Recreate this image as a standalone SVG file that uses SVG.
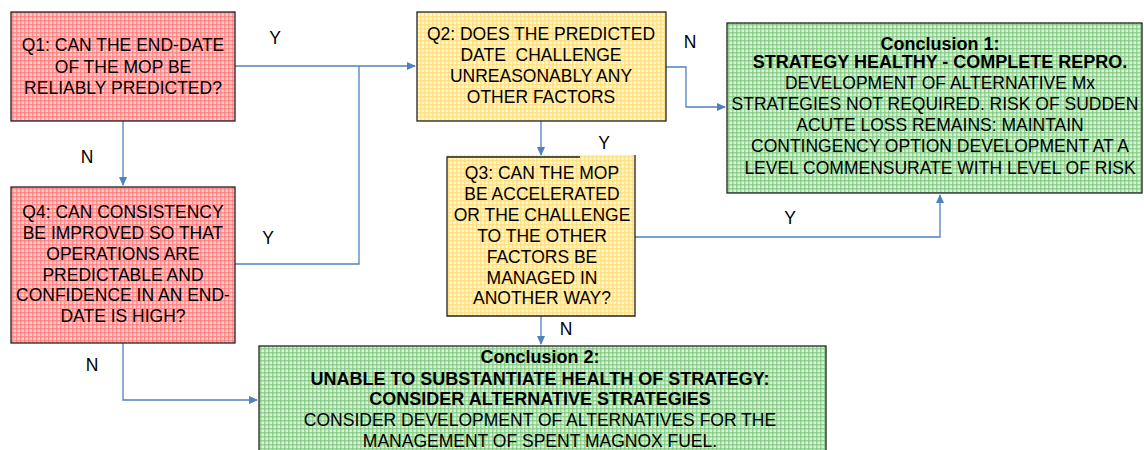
<svg xmlns="http://www.w3.org/2000/svg" width="1144" height="450" viewBox="0 0 1144 450">
<style>
  .t{font-family:"Liberation Sans",Arial,sans-serif;font-size:17.5px;fill:#000;text-anchor:middle}
  .b{font-weight:bold;font-size:18px}
  .lbl{font-family:"Liberation Sans",Arial,sans-serif;font-size:17.5px;fill:#000;text-anchor:middle}
  .box{stroke:#222;stroke-width:1.3}
  .c{fill:none;stroke:#4f81bd;stroke-width:1.3}
</style>
<defs>
  <pattern id="pr" width="4" height="4" patternUnits="userSpaceOnUse">
    <rect width="4" height="4" fill="#ffcccc"/>
    <rect width="1.5" height="4" fill="#ff7a7a" opacity="0.75"/>
    <rect width="4" height="1.5" fill="#ff7a7a" opacity="0.75"/>
  </pattern>
  <pattern id="py" width="4" height="4" patternUnits="userSpaceOnUse">
    <rect width="4" height="4" fill="#fff6d0"/>
    <rect width="1.5" height="4" fill="#ffdc73" opacity="0.7"/>
    <rect width="4" height="1.5" fill="#ffdc73" opacity="0.7"/>
  </pattern>
  <pattern id="pg" width="4" height="4" patternUnits="userSpaceOnUse">
    <rect width="4" height="4" fill="#daf1da"/>
    <rect width="1.5" height="4" fill="#7cc87c" opacity="0.7"/>
    <rect width="4" height="1.5" fill="#7cc87c" opacity="0.7"/>
  </pattern>
  <marker id="ah" markerWidth="10" markerHeight="10" refX="8" refY="5" orient="auto" markerUnits="userSpaceOnUse">
    <path d="M0,1 L9,5 L0,9 Z" fill="#4f81bd"/>
  </marker>
</defs>

<g id="connectors">
  <path class="c" d="M235,66 H415" marker-end="url(#ah)"/>
  <path class="c" d="M235,264 H359 V66"/>
  <path class="c" d="M123,121 V185" marker-end="url(#ah)"/>
  <path class="c" d="M123,343 V400 H257" marker-end="url(#ah)"/>
  <path class="c" d="M666,67 H686 V107 H725" marker-end="url(#ah)"/>
  <path class="c" d="M541,121 V155" marker-end="url(#ah)"/>
  <path class="c" d="M635,237 H940 V195" marker-end="url(#ah)"/>
  <path class="c" d="M541,316 V344" marker-end="url(#ah)"/>
</g>

<g id="labels">
  <text class="lbl" x="275" y="44">Y</text>
  <text class="lbl" x="268" y="244">Y</text>
  <text class="lbl" x="87" y="163">N</text>
  <text class="lbl" x="92" y="371">N</text>
  <text class="lbl" x="690" y="48">N</text>
  <text class="lbl" x="604" y="149">Y</text>
  <text class="lbl" x="790" y="224">Y</text>
  <text class="lbl" x="566" y="335">N</text>
</g>

<g id="q1">
  <rect class="box" x="11" y="12" width="224" height="109" fill="url(#pr)"/>
  <text class="t" x="123" y="51">Q1: CAN THE END-DATE</text>
  <text class="t" x="123" y="72.5">OF THE MOP BE</text>
  <text class="t" x="123" y="94">RELIABLY PREDICTED?</text>
</g>

<g id="q2">
  <rect class="box" x="417" y="12" width="249" height="109" fill="url(#py)"/>
  <text class="t" x="541" y="40">Q2: DOES THE PREDICTED</text>
  <text class="t" x="541" y="61" xml:space="preserve">DATE  CHALLENGE</text>
  <text class="t" x="541" y="82">UNREASONABLY ANY</text>
  <text class="t" x="541" y="103">OTHER FACTORS</text>
</g>

<g id="q3">
  <rect x="447" y="155" width="188" height="161" fill="url(#py)"/>
  <path class="box" fill="none" d="M580,157 H447 V316 H635 V155"/>
  <text class="t" x="542" y="179">Q3: CAN THE MOP</text>
  <text class="t" x="542" y="200">BE ACCELERATED</text>
  <text class="t" x="542" y="221">OR THE CHALLENGE</text>
  <text class="t" x="542" y="242">TO THE OTHER</text>
  <text class="t" x="542" y="263">FACTORS BE</text>
  <text class="t" x="542" y="283.5">MANAGED IN</text>
  <text class="t" x="542" y="304">ANOTHER WAY?</text>
</g>

<g id="q4">
  <rect class="box" x="11" y="187" width="224" height="156" fill="url(#pr)"/>
  <text class="t" x="123" y="218">Q4: CAN CONSISTENCY</text>
  <text class="t" x="123" y="239">BE IMPROVED SO THAT</text>
  <text class="t" x="123" y="260">OPERATIONS ARE</text>
  <text class="t" x="123" y="280.5">PREDICTABLE AND</text>
  <text class="t" x="123" y="301">CONFIDENCE IN AN END-</text>
  <text class="t" x="123" y="322">DATE IS HIGH?</text>
</g>

<g id="conclusion1">
  <rect class="box" x="727" y="23" width="415" height="170" fill="url(#pg)"/>
  <text class="t b" x="940" y="50">Conclusion 1:</text>
  <text class="t b" x="940" y="68">STRATEGY HEALTHY - COMPLETE REPRO.</text>
  <text class="t" x="940" y="89">DEVELOPMENT OF ALTERNATIVE Mx</text>
  <text class="t" x="935" y="110">STRATEGIES NOT REQUIRED. RISK OF SUDDEN</text>
  <text class="t" x="940" y="131">ACUTE LOSS REMAINS: MAINTAIN</text>
  <text class="t" x="940" y="152">CONTINGENCY OPTION DEVELOPMENT AT A</text>
  <text class="t" x="940" y="174">LEVEL COMMENSURATE WITH LEVEL OF RISK</text>
</g>

<g id="conclusion2">
  <rect class="box" x="259" y="346" width="567" height="110" fill="url(#pg)"/>
  <text class="t b" x="540" y="363">Conclusion 2:</text>
  <text class="t b" x="540" y="385">UNABLE TO SUBSTANTIATE HEALTH OF STRATEGY:</text>
  <text class="t b" x="540" y="405">CONSIDER ALTERNATIVE STRATEGIES</text>
  <text class="t" x="540" y="426">CONSIDER DEVELOPMENT OF ALTERNATIVES FOR THE</text>
  <text class="t" x="540" y="447">MANAGEMENT OF SPENT MAGNOX FUEL.</text>
</g>
</svg>
